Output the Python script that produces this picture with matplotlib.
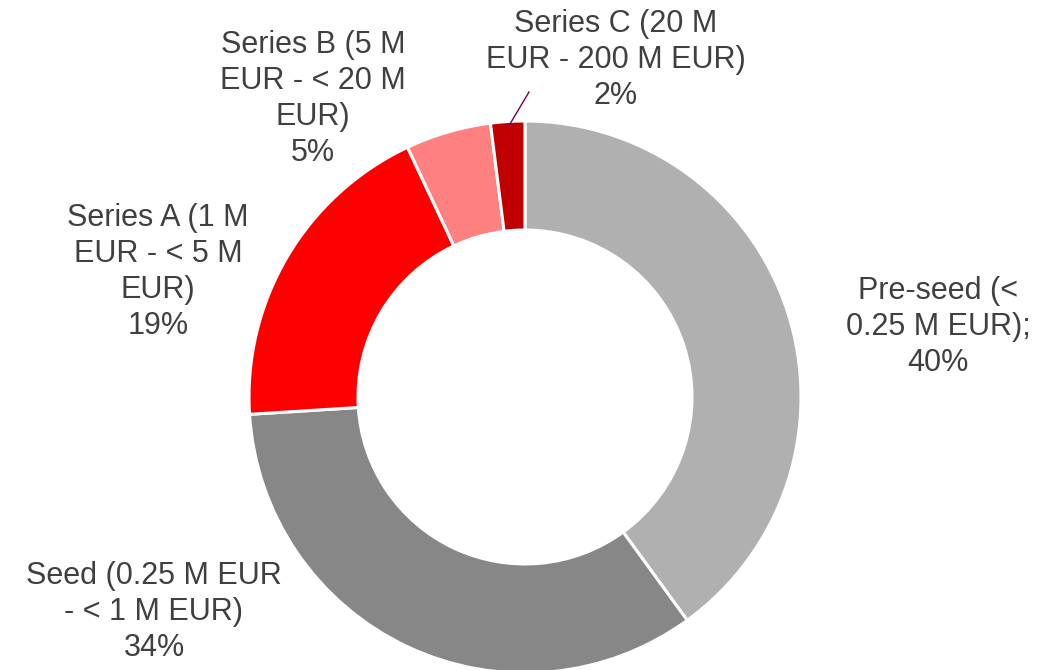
import matplotlib
matplotlib.use("Agg")
import matplotlib.pyplot as plt

# funding stage shares (%), clockwise from 12 o'clock
stages = ["Pre-seed", "Seed", "Series A", "Series B", "Series C"]
shares = [40, 34, 19, 5, 2]
label_text = [
    "Pre-seed (<\n0.25 M EUR);",
    "Seed (0.25 M EUR\n- < 1 M EUR)",
    "Series A (1 M\nEUR - < 5 M\nEUR)",
    "Series B (5 M\nEUR - < 20 M\nEUR)",
    "Series C (20 M\nEUR - 200 M EUR)",
]
colors = ["#B0B0B0", "#878787", "#FF0000", "#FF8080", "#C00000"]

TXT = "#404040"
CX, CY, R = 525, 397, 276   # donut centre / radius in pixels
W, H = 1051, 670


def px(x, y):
    """pixel position -> data coords of the full-figure axes"""
    return (x - CX) / R, (CY - y) / R


fig = plt.figure(figsize=(W / 100, H / 100), dpi=100)
ax = fig.add_axes([0, 0, 1, 1])
ax.pie(shares, colors=colors, startangle=90, counterclock=False, radius=1,
       wedgeprops=dict(width=0.395, edgecolor="white", linewidth=2.2))
ax.set_xlim(px(0, 0)[0], px(W, 0)[0])
ax.set_ylim(px(0, H)[1], px(0, 0)[1])
ax.set_aspect("auto")
ax.axis("off")

label_pos = [(938, 327), (154, 612), (158, 272), (313, 99), (616, 60)]
for txt, v, (x, y) in zip(label_text, shares, label_pos):
    ax.text(*px(x, y), f"{txt}\n{v}%", ha="center", va="center",
            fontsize=22, color=TXT, family="Liberation Sans", linespacing=1.26)

# leader line for the thin Series C slice
x0, y0 = px(507, 129)
x1, y1 = px(529, 92)
ax.plot([x0, x1], [y0, y1], color="#7A0040", lw=1.0)

fig.savefig("out.png", dpi=100)
